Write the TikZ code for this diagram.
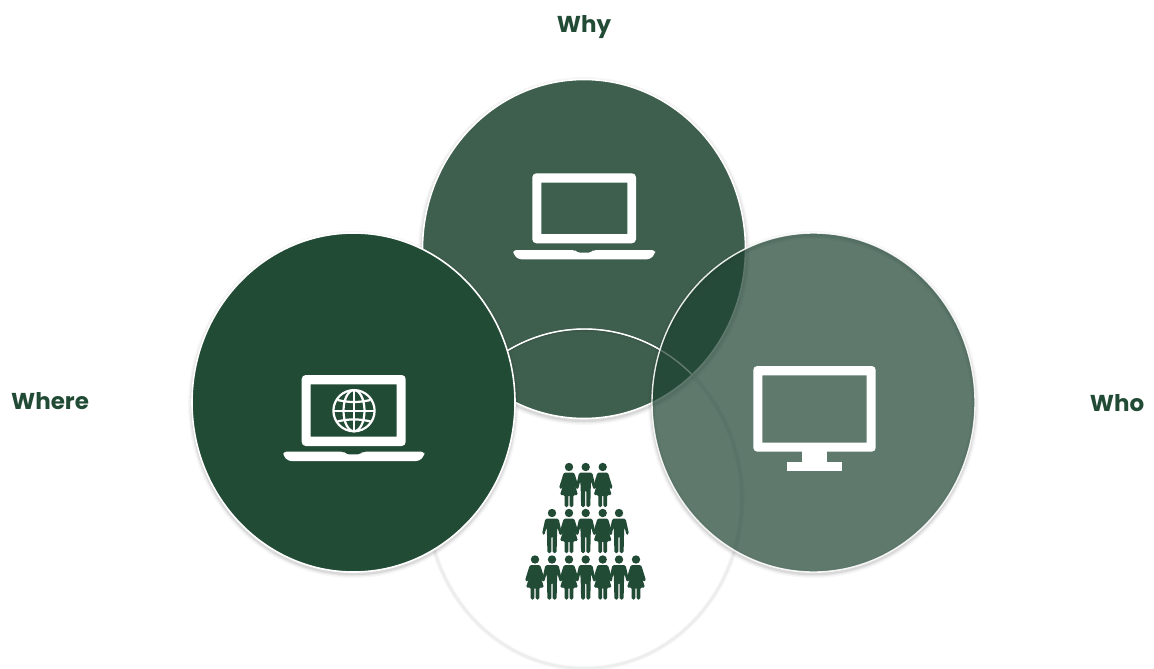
\documentclass[tikz,border=0pt]{standalone}
\usepackage{fontspec}
\setmainfont{Poppins}
\definecolor{gdark}{HTML}{224B36}
\definecolor{gmid}{HTML}{3F5F4E}
\definecolor{gwho}{HTML}{1D4231}
\definecolor{ring}{HTML}{EBEDEC}
\tikzset{
  lbl/.style={text=gdark,font=\fontsize{23}{26}\selectfont\bfseries,inner sep=0pt,anchor=center},
  iconw/.style={fill=white,draw=none,rounded corners=4pt},
  edgew/.style={draw=white,line width=1.6pt},
  personm/.pic={
    \fill[gdark] (0,4) circle (4.2);
    \fill[gdark,rounded corners=1.6pt] (-6.6,9.5) -- (6.6,9.5) -- (10,25) -- (7.8,26.5) -- (5.4,18) -- (5,26) -- (4.6,44) -- (.6,44) -- (.6,27) -- (-.6,27) -- (-.6,44) -- (-4.6,44) -- (-5,26) -- (-5.4,18) -- (-7.8,26.5) -- (-10,25) -- cycle;
  },
  personw/.pic={
    \fill[gdark] (0,4) circle (4.2);
    \fill[gdark,rounded corners=1.4pt] (-5.2,9.5) -- (5.2,9.5) -- (10,25) -- (7.8,26.5) -- (4.8,18.5) -- (9,32) -- (4.3,32) -- (4.3,44) -- (.7,44) -- (.7,32) -- (-.7,32) -- (-.7,44) -- (-4.3,44) -- (-4.3,32) -- (-9,32) -- (-4.8,18.5) -- (-7.8,26.5) -- (-10,25) -- cycle;
  },
}
\begin{document}
\begin{tikzpicture}[x=1pt,y=-1pt]
\useasboundingbox (0,0) rectangle (1154,669);
\foreach \w/\o in {9/.03,6/.05,3/.08}{
  \draw[black,opacity=\o,line width=\w pt] (584,251) ellipse [x radius=161.5,y radius=169.5];
}
\fill[gmid] (584,249) ellipse [x radius=161.5,y radius=169.5];
\draw[edgew] (584,249) ellipse [x radius=161.5,y radius=169.5];
% bottom ring
\foreach \w/\o in {5/.025,3/.04}{
  \draw[black,opacity=\o,line width=\w pt] (584.5,499) ellipse [x radius=157.5,y radius=169.5];
}
\draw[ring,line width=1pt] (584.5,498.5) ellipse [x radius=157.5,y radius=169.5];
\begin{scope}
  \clip (584,249) ellipse [x radius=161.5,y radius=169.5];
  \draw[white,line width=1.4pt] (584.5,498.5) ellipse [x radius=157.5,y radius=169.5];
\end{scope}
% Who
\foreach \w/\o in {8/.03,5/.05,2.5/.07}{
  \draw[black,opacity=\o,line width=\w pt] (813.5,404.5) ellipse [x radius=161.5,y radius=169.5];
}
\fill[gwho,opacity=.71] (813.5,402.5) ellipse [x radius=161.5,y radius=169.5];
\draw[draw=white,line width=1.4pt,opacity=.9] (813.5,402.5) ellipse [x radius=161.5,y radius=169.5];
% Where
\foreach \w/\o in {8/.03,5/.05,2.5/.07}{
  \draw[black,opacity=\o,line width=\w pt] (353.5,404.5) ellipse [x radius=161.5,y radius=169.5];
}
\fill[gdark] (353.5,402.5) ellipse [x radius=161.5,y radius=169.5];
\draw[edgew] (353.5,402.5) ellipse [x radius=161.5,y radius=169.5];
% Why laptop
\fill[iconw,even odd rule] (532.3,243.3) -- (532.3,173.3) -- (636,173.3) -- (636,243.3) -- cycle
  [sharp corners] (541.3,182.7) rectangle (627.3,234);
\fill[white,rounded corners=3pt] (513.3,250) -- (575,250) -- (577,252.7) -- (591.3,252.7) -- (593.3,250) -- (655,250) -- (655,254) -- (650,259.3) -- (518.3,259.3) -- (513.3,254) -- cycle;
% Where laptop
\fill[iconw,even odd rule] (301.7,446) -- (301.7,375) -- (405.7,375) -- (405.7,446) -- cycle
  [sharp corners] (310.7,384.3) rectangle (396.7,436.7);
\fill[white,rounded corners=3pt] (283.3,451.7) -- (344,451.7) -- (346,454.4) -- (360.7,454.4) -- (362.7,451.7) -- (424.3,451.7) -- (424.3,455.7) -- (419.3,461) -- (288.3,461) -- (283.3,455.7) -- cycle;
% globe
\begin{scope}[draw=white,line width=2.2pt]
  \draw (354,410.7) circle (20.6);
  \draw (354,410.7) ellipse [x radius=10.5,y radius=20.6];
  \draw (354,390.1) -- (354,431.3);
  \draw (333.4,410.7) -- (374.6,410.7);
  \draw (337.5,400) to[bend right=12] (370.5,400);
  \draw (337.5,421.4) to[bend left=12] (370.5,421.4);
\end{scope}
% monitor
\fill[iconw,even odd rule] (753.3,451.7) -- (753.3,366) -- (875.7,366) -- (875.7,451.7) -- cycle
  [sharp corners] (762.3,375.3) rectangle (866.7,442.7);
\fill[white] (802.3,451) rectangle (826.7,462);
\fill[white] (786.7,461.7) rectangle (841.7,470.7);
% people
\foreach \x/\y/\k in {
  569/463/personw,585.7/463/personm,602.7/463/personw,
  552/509/personm,569/509/personw,585.7/509/personm,602.7/509/personw,619/509/personm,
  535/555.5/personw,552/555.5/personm,569/555.5/personw,585.7/555.5/personm,602.7/555.5/personw,619/555.5/personm,636/555.5/personw}{
  \path (\x,\y) pic {\k};
}
% labels
\node[lbl] (why) at (584,27) {Why};
\node[lbl] (where) at (50,401) {Where};
\node[lbl] (who) at (1117,403) {Who};
\end{tikzpicture}
\end{document}
